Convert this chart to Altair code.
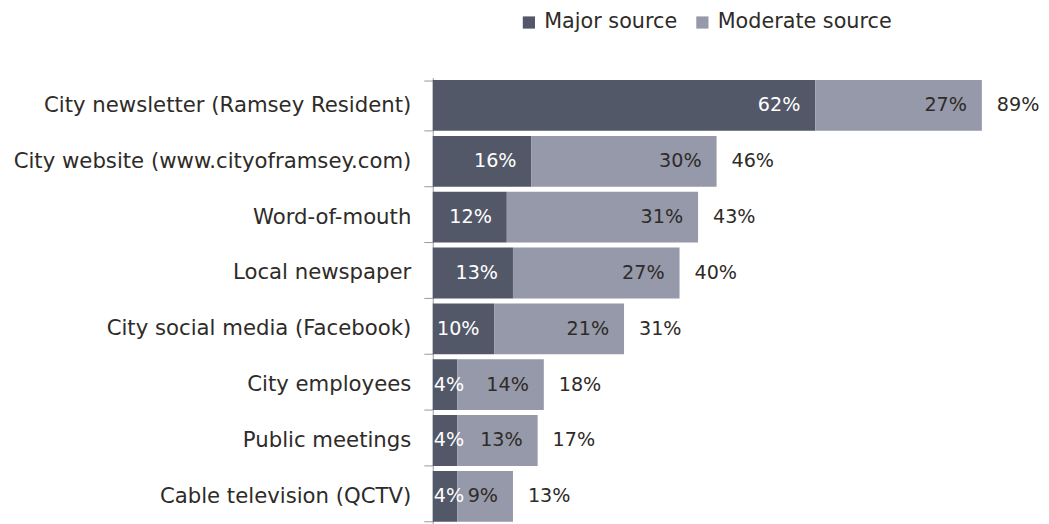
import altair as alt
import pandas as pd

categories = [
    "City newsletter (Ramsey Resident)",
    "City website (www.cityoframsey.com)",
    "Word-of-mouth",
    "Local newspaper",
    "City social media (Facebook)",
    "City employees",
    "Public meetings",
    "Cable television (QCTV)",
]
major = [62, 16, 12, 13, 10, 4, 4, 4]
moderate = [27, 30, 31, 27, 21, 14, 13, 9]
series_names = ["Major source", "Moderate source"]
colors = ["#535868", "#9699a9"]
FONT = "DejaVu Sans"
FS_LABEL = 21.3
FS_LEGEND = 20.8
FS_NUM = 19.2
DARK = "#2e2b28"

rows = []
for c, m, d in zip(categories, major, moderate):
    rows.append({"cat": c, "series": series_names[0], "start": 0, "end": m, "val": m, "total": m + d})
    rows.append({"cat": c, "series": series_names[1], "start": m, "end": m + d, "val": d, "total": m + d})
df = pd.DataFrame(rows)
df["label"] = df["val"].astype(str) + "%"
df["tlabel"] = df["total"].astype(str) + "%"

y_axis = alt.Y(
    "cat:N",
    sort=categories,
    title=None,
    scale=alt.Scale(paddingInner=0.09, paddingOuter=0.045),
    axis=alt.Axis(
        tickBand="extent",
        tickSize=9,
        labelPadding=13,
        labelFont=FONT,
        labelFontSize=FS_LABEL,
        labelColor=DARK,
        labelLimit=500,
        domainColor="#9a9a9a",
        tickColor="#9a9a9a",
        grid=False,
    ),
)
y_plain = alt.Y("cat:N", sort=categories)
xscale = alt.Scale(domain=[0, 96], nice=False)


def xenc(field):
    return alt.X(field, scale=xscale, axis=None)


base = alt.Chart(df)

bars = base.mark_bar().encode(
    y=y_axis,
    x=xenc("start:Q"),
    x2="end:Q",
    color=alt.Color(
        "series:N",
        scale=alt.Scale(domain=series_names, range=colors),
        legend=alt.Legend(
            title=None,
            orient="none",
            direction="horizontal",
            legendX=86,
            legendY=-66,
            symbolType="square",
            symbolSize=150,
            symbolStrokeWidth=0,
            labelFont=FONT,
            labelFontSize=FS_LEGEND,
            labelColor=DARK,
            labelLimit=400,
            columnPadding=14,
            labelOffset=5,
        ),
    ),
)

major_big = base.transform_filter(
    (alt.datum.series == series_names[0]) & (alt.datum.val >= 6)
).mark_text(align="right", dx=-15, color="white", font=FONT, fontSize=FS_NUM).encode(
    y=y_plain, x=xenc("end:Q"), text="label:N"
)
major_small = base.transform_filter(
    (alt.datum.series == series_names[0]) & (alt.datum.val < 6)
).mark_text(align="left", dx=1, color="white", font=FONT, fontSize=FS_NUM).encode(
    y=y_plain, x=xenc("start:Q"), text="label:N"
)
mod_lab = base.transform_filter(alt.datum.series == series_names[1]).mark_text(
    align="right", dx=-15, color=DARK, font=FONT, fontSize=FS_NUM
).encode(y=y_plain, x=xenc("end:Q"), text="label:N")
tot_lab = base.transform_filter(alt.datum.series == series_names[1]).mark_text(
    align="left", dx=15, color=DARK, font=FONT, fontSize=FS_NUM
).encode(y=y_plain, x=xenc("total:Q"), text="tlabel:N")

chart = (
    alt.layer(bars, major_big, major_small, mod_lab, tot_lab)
    .properties(
        width=594,
        height=448,
        autosize=alt.AutoSizeParams(type="none"),
        padding={"left": 426, "top": 69, "right": 16, "bottom": 0},
        view=alt.ViewBackground(strokeOpacity=0, strokeWidth=0),
    )
    .configure_view(strokeOpacity=0, strokeWidth=0)
    .configure(background="white")
)

chart.save("out.html", embed_options={"renderer": "svg", "actions": False})
